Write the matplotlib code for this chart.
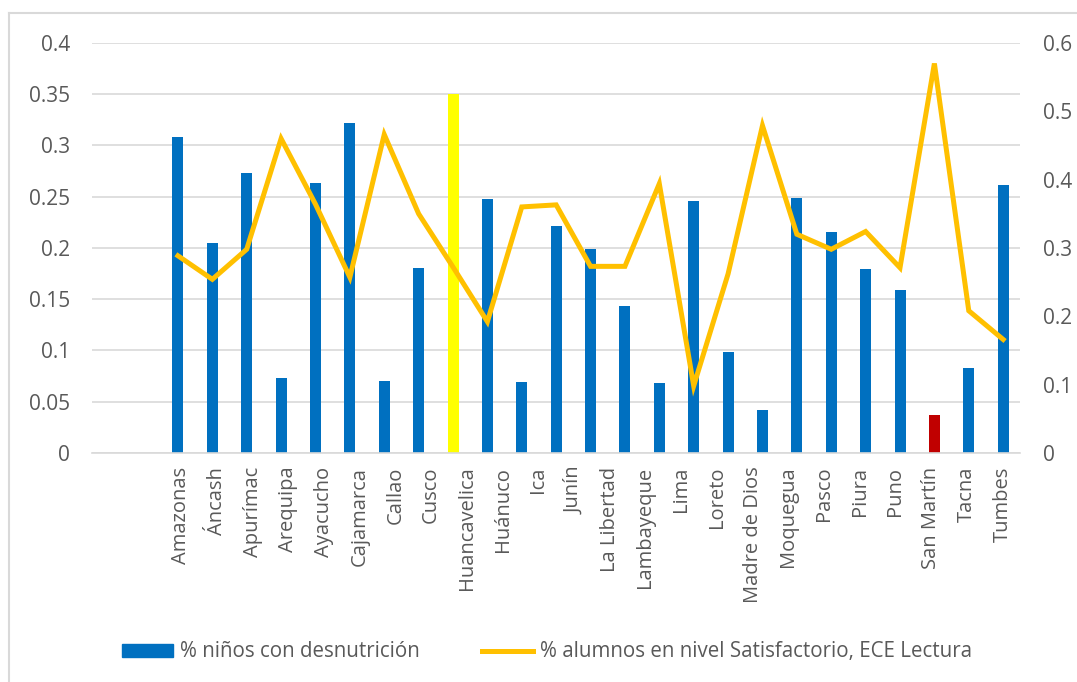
import matplotlib
matplotlib.use("Agg")
import matplotlib.pyplot as plt
from matplotlib.lines import Line2D
from matplotlib.patches import Patch
import numpy as np

plt.rcParams["font.family"] = ["Open Sans", "DejaVu Sans"]

# Regions (category axis labels)
regiones = ["Amazonas", "Áncash", "Apurímac", "Arequipa", "Ayacucho", "Cajamarca",
            "Callao", "Cusco", "Huancavelica", "Huánuco", "Ica", "Junín",
            "La Libertad", "Lambayeque", "Lima", "Loreto", "Madre de Dios",
            "Moquegua", "Pasco", "Piura", "Puno", "San Martín", "Tacna", "Tumbes"]

# % niños con desnutrición (left axis)
desnutricion = [0.308, 0.205, 0.273, 0.073, 0.263, 0.322, 0.070, 0.180, 0.350,
                0.248, 0.069, 0.221, 0.199, 0.143, 0.0685, 0.246, 0.098, 0.042,
                0.249, 0.216, 0.179, 0.159, 0.0365, 0.083, 0.261]

# % alumnos en nivel Satisfactorio, ECE Lectura (right axis)
satisfactorio = [0.2885, 0.254, 0.298, 0.460, 0.364, 0.257, 0.466, 0.350, 0.272,
                 0.192, 0.360, 0.363, 0.273, 0.273, 0.394, 0.098, 0.262, 0.479,
                 0.320, 0.298, 0.324, 0.271, 0.570, 0.208, 0.166]

BLUE = "#0070C0"
GOLD = "#FFC000"
GRID = "#D9D9D9"
TXT = "#595959"
FS = 14.5

n_slots = 27          # two empty slots before the data
x = np.arange(2, 2 + len(desnutricion))
colors = [BLUE] * len(desnutricion)
colors[8] = "#FFFF00"
colors[22] = "#C00000"

fig = plt.figure(figsize=(10.77, 6.82), dpi=100)
ax = fig.add_axes([0.0854, 0.336, 0.862, 0.601])
ax2 = ax.twinx()

ax.bar(x, desnutricion, width=0.32, color=colors, zorder=2)
ax2.plot(x, satisfactorio, color=GOLD, lw=3.6, solid_joinstyle="miter", zorder=3)

ax.set_xlim(-0.5, n_slots - 0.5)
ax.set_ylim(0, 0.4)
ax2.set_ylim(0, 0.6)
ax.set_yticks(np.arange(0, 0.401, 0.05))
ax.set_yticklabels(["0", "0.05", "0.1", "0.15", "0.2", "0.25", "0.3", "0.35", "0.4"])
ax2.set_yticks(np.arange(0, 0.601, 0.1))
ax2.set_yticklabels(["0", "0.1", "0.2", "0.3", "0.4", "0.5", "0.6"])

# labels sit on a 26-slot category axis
step = n_slots / 26
lab_x = [-0.5 + (j + 2.5) * step for j in range(len(regiones))]
ax.set_xticks(lab_x)
ax.set_xticklabels(regiones, rotation=90, fontsize=FS, color=TXT)

ax.grid(axis="y", color=GRID, lw=1.2, zorder=0)
ax.set_axisbelow(True)
for a in (ax, ax2):
    for s in a.spines.values():
        s.set_visible(False)
    a.tick_params(length=0, labelsize=15, labelcolor=TXT)
ax.tick_params(axis="x", labelsize=FS)
ax.spines["bottom"].set_visible(True)
ax.spines["bottom"].set_color(GRID)
ax.spines["bottom"].set_linewidth(1.2)
ax.tick_params(axis="y", pad=16)
ax.tick_params(axis="x", pad=10)
ax2.tick_params(axis="y", pad=16)

handles = [Patch(color=BLUE), Line2D([0], [0], color=GOLD, lw=3.6)]
fig.legend(handles, ["% niños con desnutrición",
                     "% alumnos en nivel Satisfactorio, ECE Lectura"],
           loc="center", bbox_to_anchor=(0.508, 0.044), ncol=2, frameon=False,
           fontsize=14.8, labelcolor=TXT, columnspacing=3.0, handlelength=2.5,
           handletextpad=0.35, handleheight=0.6)

# chart area border
fig.add_artist(Line2D([9 / 1077, 9 / 1077], [0, 1 - 13 / 682], color=GRID, lw=1.5))
fig.add_artist(Line2D([9 / 1077, 1], [1 - 13 / 682, 1 - 13 / 682], color=GRID, lw=1.5))

fig.savefig("out.png", dpi=100)
